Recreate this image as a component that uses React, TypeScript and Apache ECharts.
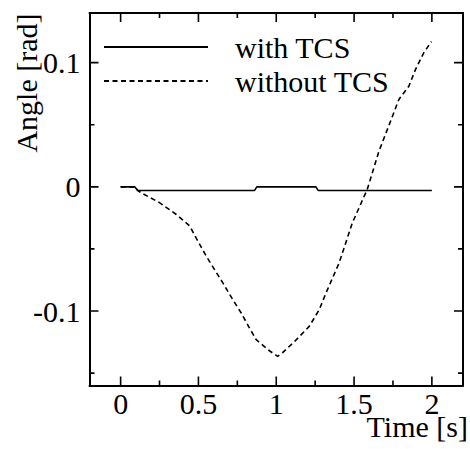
import React, { useEffect, useRef } from "react";
import * as echarts from "echarts";

// Axis ranges
const X_MIN = -0.2;
const X_MAX = 2.2;
const Y_MIN = -0.16;
const Y_MAX = 0.14;

// Tick positions and labels
const xMajorTicks = [0, 0.5, 1, 1.5, 2];
const xTickLabels = ["0", "0.5", "1", "1.5", "2"];
const xMinorTicks = [0.25, 0.75, 1.25, 1.75];
const yMajorTicks = [-0.1, 0, 0.1];
const yTickLabels = ["-0.1", "0", "0.1"];
const yMinorTicks = [-0.15, -0.05, 0.05];

// Time [s]
const withTcsTime = [0, 0.09, 0.11, 0.86, 0.875, 1.255, 1.27, 2.0];
// Angle [rad]
const withTcsAngle = [0, 0, -0.003, -0.003, 0, 0, -0.003, -0.003];

const withoutTcsTime = [
  0, 0.09, 0.11, 0.143, 0.252, 0.358, 0.444, 0.497, 0.551, 0.657, 0.721,
  0.775, 0.828, 0.871, 0.956, 1.009, 1.041, 1.127, 1.212, 1.276, 1.329,
  1.404, 1.489, 1.585, 1.66, 1.735, 1.788, 1.852, 1.895, 1.948, 1.997,
];
const withoutTcsAngle = [
  0, 0, -0.003, -0.0056, -0.0129, -0.0223, -0.0315, -0.0439, -0.056, -0.0774,
  -0.0909, -0.1016, -0.1137, -0.123, -0.132, -0.1365, -0.1335, -0.1234,
  -0.1124, -0.099, -0.0828, -0.0613, -0.029, -0.002, 0.0287, 0.053, 0.0704,
  0.081, 0.0946, 0.108, 0.117,
];

const FONT_FAMILY = "Liberation Serif";
const FONT_SIZE = 30;
const MAJOR_LEN = 9; // px
const MINOR_LEN = 5; // px

// Plot box
const W = 470;
const H = 449;
const GRID = { left: 89.5, right: 7, top: 13, bottom: 63.5 };
const PLOT_W = W - GRID.left - GRID.right;
const PLOT_H = H - GRID.top - GRID.bottom;
// pixel length -> data length
const dx = (px: number) => ((X_MAX - X_MIN) * px) / PLOT_W;
const dy = (px: number) => ((Y_MAX - Y_MIN) * px) / PLOT_H;

const zip = (xs: number[], ys: number[]) => xs.map((x, i) => [x, ys[i]]);

const labelFor = (ticks: number[], labels: string[]) => (v: number) => {
  const i = ticks.findIndex((t) => Math.abs(t - v) < 1e-9);
  return i >= 0 ? labels[i] : String(v);
};

const frameAxis = (
  min: number,
  max: number,
  position: string,
  label?: { values: number[]; labels: string[]; margin: number }
) => ({
  type: "value",
  position,
  min,
  max,
  axisLine: {
    show: true,
    onZero: false,
    lineStyle: { color: "#000", width: 2 },
  },
  splitLine: { show: false },
  axisTick: { show: false },
  axisLabel: label
    ? {
        show: true,
        customValues: label.values,
        formatter: labelFor(label.values, label.labels),
        margin: label.margin,
        color: "#000",
        fontFamily: FONT_FAMILY,
        fontSize: FONT_SIZE,
      }
    : { show: false },
});

// Each tick is a short two-point segment, drawn with null gaps in one line series
const tickSegments = (): (number[] | null)[] => {
  const out: any[] = [];
  const push = (a: number[], b: number[]) => {
    out.push(a, b, "-");
  };
  const xs: [number, number][] = [
    ...xMajorTicks.map((v) => [v, MAJOR_LEN] as [number, number]),
    ...xMinorTicks.map((v) => [v, MINOR_LEN] as [number, number]),
  ];
  xs.forEach(([v, len]) => {
    push([v, Y_MIN], [v, Y_MIN + dy(len)]);
    push([v, Y_MAX], [v, Y_MAX - dy(len)]);
  });
  const ys: [number, number][] = [
    ...yMajorTicks.map((v) => [v, MAJOR_LEN] as [number, number]),
    ...yMinorTicks.map((v) => [v, MINOR_LEN] as [number, number]),
  ];
  ys.forEach(([v, len]) => {
    push([X_MIN, v], [X_MIN + dx(len), v]);
    push([X_MAX, v], [X_MAX - dx(len), v]);
  });
  return out;
};

export default function App() {
  const ref = useRef<HTMLDivElement>(null);

  useEffect(() => {
    document.body.style.margin = "0";
    if (!ref.current) return;
    const chart = echarts.init(ref.current, null, { renderer: "svg" });

    const option: any = {
      animation: false,
      backgroundColor: "#fff",
      grid: { ...GRID, show: false },
      xAxis: [
        frameAxis(X_MIN, X_MAX, "bottom", {
          values: xMajorTicks,
          labels: xTickLabels,
          margin: 3,
        }),
        frameAxis(X_MIN, X_MAX, "top"),
      ],
      yAxis: [
        frameAxis(Y_MIN, Y_MAX, "left", {
          values: yMajorTicks,
          labels: yTickLabels,
          margin: 9,
        }),
        frameAxis(Y_MIN, Y_MAX, "right"),
      ],
      legend: {
        orient: "vertical",
        left: 103,
        top: 32,
        padding: 0,
        itemWidth: 104,
        itemHeight: 14,
        itemGap: 4,
        data: ["with TCS", "without TCS"],
        itemStyle: { opacity: 0 },
        textStyle: {
          fontFamily: FONT_FAMILY,
          fontSize: FONT_SIZE,
          color: "#000",
          lineHeight: 30,
          padding: [0, 0, 0, 22],
        },
      },
      graphic: [
        {
          type: "text",
          x: 26,
          y: 83,
          rotation: Math.PI / 2,
          style: {
            text: "Angle [rad]",
            fontFamily: FONT_FAMILY,
            fontSize: FONT_SIZE,
            fill: "#000",
            align: "center",
            verticalAlign: "middle",
          },
        },
        {
          type: "text",
          x: 468,
          y: 426,
          style: {
            text: "Time [s]",
            fontFamily: FONT_FAMILY,
            fontSize: FONT_SIZE,
            fill: "#000",
            align: "right",
            verticalAlign: "middle",
          },
        },
      ],
      series: [
        {
          name: "with TCS",
          type: "line",
          xAxisIndex: 0,
          yAxisIndex: 0,
          data: zip(withTcsTime, withTcsAngle),
          symbol: "none",
          showSymbol: false,
          lineStyle: { color: "#000", width: 1.6, type: "solid" },
          itemStyle: { color: "#000" },
          z: 3,
        },
        {
          name: "without TCS",
          type: "line",
          xAxisIndex: 0,
          yAxisIndex: 0,
          data: zip(withoutTcsTime, withoutTcsAngle),
          symbol: "none",
          showSymbol: false,
          lineStyle: { color: "#000", width: 1.6, type: [5, 3.5] },
          itemStyle: { color: "#000" },
          z: 2,
        },
        {
          name: "ticks",
          type: "line",
          xAxisIndex: 0,
          yAxisIndex: 0,
          data: tickSegments(),
          connectNulls: false,
          symbol: "none",
          showSymbol: false,
          silent: true,
          clip: false,
          lineStyle: { color: "#000", width: 1.6 },
          itemStyle: { color: "#000" },
          z: 10,
        },
      ],
    };

    chart.setOption(option);
    return () => chart.dispose();
  }, []);

  return <div ref={ref} style={{ width: W, height: H }} />;
}
